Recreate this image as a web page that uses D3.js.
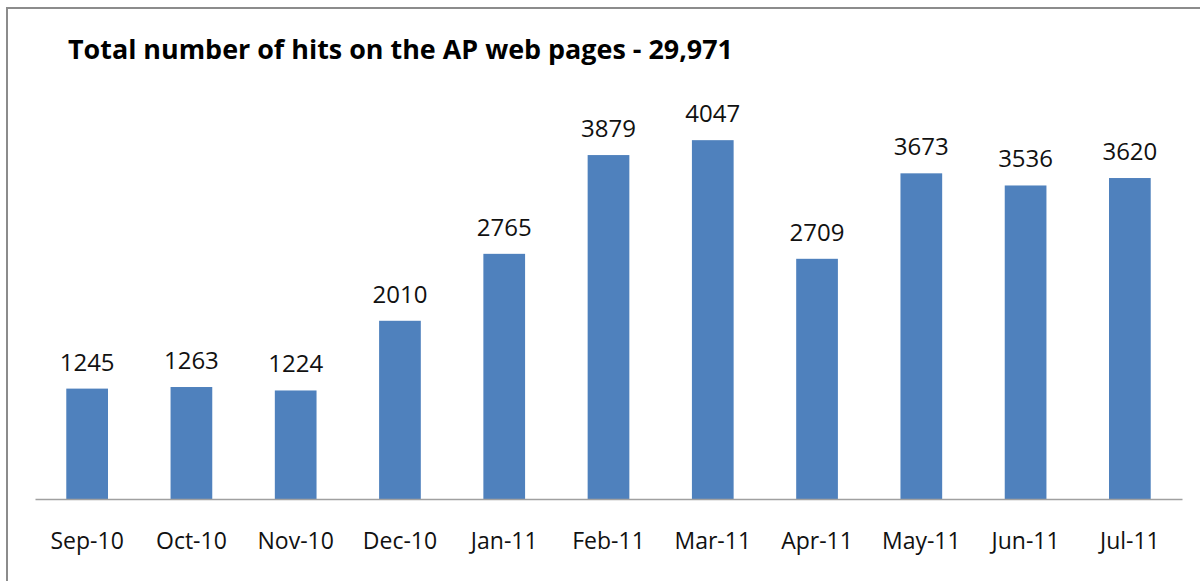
<!DOCTYPE html>
<html>
<head>
<meta charset="utf-8">
<script src="https://cdn.jsdelivr.net/npm/d3@7"></script>
<style>
  body { margin: 0; background: #fff; }
  svg { display: block; font-family: "Open Sans", sans-serif; }
</style>
</head>
<body>
<svg width="1200" height="581"></svg>
<script>
var months = ["Sep-10", "Oct-10", "Nov-10", "Dec-10", "Jan-11", "Feb-11",
              "Mar-11", "Apr-11", "May-11", "Jun-11", "Jul-11"];
var hits = [1245, 1263, 1224, 2010, 2765, 3879, 4047, 2709, 3673, 3536, 3620];
var title = "Total number of hits on the AP web pages - 29,971";

var svg = d3.select("svg"),
    width = +svg.attr("width"),
    height = +svg.attr("height");

// outer frame (only top and left edges show in the picture)
svg.append("rect")
    .attr("x", 7)
    .attr("y", 8)
    .attr("width", width + 10)
    .attr("height", height + 10)
    .attr("fill", "none")
    .attr("stroke", "#8c8c8c")
    .attr("stroke-width", 2);

svg.append("text")
    .attr("x", 68)
    .attr("y", 59)
    .attr("font-size", 27)
    .attr("font-weight", "bold")
    .attr("textLength", 665)
    .attr("lengthAdjust", "spacingAndGlyphs")
    .attr("fill", "#000")
    .text(title);

var x = d3.scaleBand()
    .domain(months)
    .range([35, 1182])
    .paddingInner(0.6)
    .paddingOuter(0.3);

var y = d3.scaleLinear()
    .domain([0, 4500])
    .range([499, 100]);

svg.append("g")
    .attr("class", "bars")
  .selectAll("rect")
  .data(hits)
  .enter().append("rect")
    .attr("x", function(d, i) { return x(months[i]); })
    .attr("y", function(d) { return y(d); })
    .attr("width", x.bandwidth())
    .attr("height", function(d) { return y(0) - y(d); })
    .attr("fill", "#4f81bd");

svg.append("g")
    .attr("class", "labels")
  .selectAll("text")
  .data(hits)
  .enter().append("text")
    .attr("x", function(d, i) { return x(months[i]) + x.bandwidth() / 2; })
    .attr("y", function(d) { return y(d) - 18; })
    .attr("text-anchor", "middle")
    .attr("font-size", 24)
    .attr("fill", "#111")
    .text(function(d) { return d; });

var xAxis = svg.append("g")
    .attr("transform", "translate(0," + y(0) + ")")
    .call(d3.axisBottom(x).tickSize(0).tickPadding(34));

xAxis.select(".domain")
    .attr("stroke", "#a0a0a0")
    .attr("stroke-width", 1.5);

xAxis.selectAll("text")
    .attr("font-size", 23)
    .attr("font-family", "Open Sans, sans-serif")
    .attr("fill", "#111");
</script>
</body>
</html>
